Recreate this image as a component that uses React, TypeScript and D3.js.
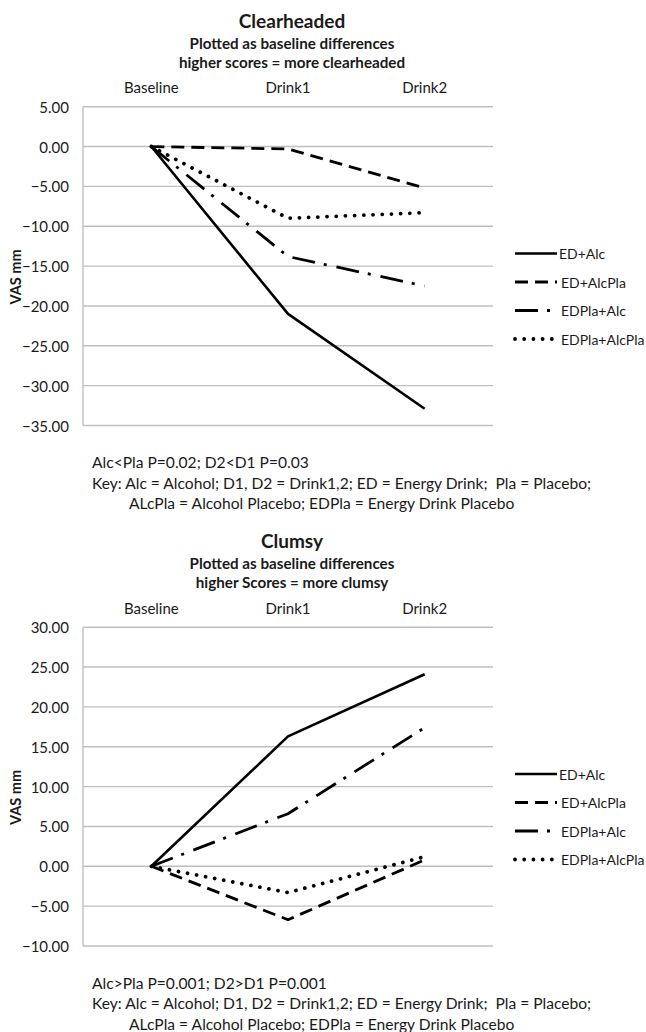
import React from "react";
import * as d3 from "d3";

const categories = ["Baseline", "Drink1", "Drink2"];
const seriesNames = ["ED+Alc", "ED+AlcPla", "EDPla+Alc", "EDPla+AlcPla"];

const clearEDAlc = [0, -21.0, -32.9];
const clearEDAlcPla = [0, -0.3, -5.2];
const clearEDPlaAlc = [0, -13.8, -17.5];
const clearEDPlaAlcPla = [0, -9.0, -8.3];

const clumsyEDAlc = [0, 16.3, 24.1];
const clumsyEDAlcPla = [0, -6.7, 0.8];
const clumsyEDPlaAlc = [0, 6.6, 17.4];
const clumsyEDPlaAlcPla = [0, -3.3, 1.2];

const clearTicks = [5, 0, -5, -10, -15, -20, -25, -30, -35];
const clumsyTicks = [30, 25, 20, 15, 10, 5, 0, -5, -10];

const clearTitle = "Clearheaded";
const clearSub = ["Plotted as baseline differences", "higher scores = more clearheaded"];
const clearNotes = [
  "Alc<Pla P=0.02; D2<D1 P=0.03",
  "Key: Alc = Alcohol; D1, D2 = Drink1,2; ED = Energy Drink;  Pla = Placebo;",
  "ALcPla = Alcohol Placebo; EDPla = Energy Drink Placebo",
];
const clumsyTitle = "Clumsy";
const clumsySub = ["Plotted as baseline differences", "higher Scores = more clumsy"];
const clumsyNotes = [
  "Alc>Pla P=0.001; D2>D1 P=0.001",
  "Key: Alc = Alcohol; D1, D2 = Drink1,2; ED = Energy Drink;  Pla = Placebo;",
  "ALcPla = Alcohol Placebo; EDPla = Energy Drink Placebo",
];

const styles = [
  { dash: "none", cap: "butt", width: 2.6 },
  { dash: "13,7", cap: "butt", width: 2.8 },
  { dash: "23,9,3,10", cap: "butt", width: 2.8 },
  { dash: "0.01,9.2", cap: "round", width: 3.8 },
];

const FONT = "Lato, 'Open Sans', sans-serif";
const TEXT = "#1a1a1a";
const GRID = "#bfbfbf";

type PanelProps = {
  top: number;
  title: string;
  sub: string[];
  notes: string[];
  ticks: number[];
  series: number[][];
};

function Panel({ top, title, sub, notes, ticks, series }: PanelProps) {
  const plotLeft = 83;
  const plotRight = 493;
  const plotTop = top + 106.7;
  const plotBottom = top + 425.5;
  const x = d3.scalePoint<string>().domain(categories).range([plotLeft, plotRight]).padding(0.5);
  const y = d3
    .scaleLinear()
    .domain([d3.min(ticks) as number, d3.max(ticks) as number])
    .range([plotBottom, plotTop]);
  const line = d3
    .line<number>()
    .x((_, i) => x(categories[i]) as number)
    .y((v) => y(v));
  const cx = 292;
  const legendY = [top + 253.5, top + 282, top + 310.5, top + 339];

  return (
    <g>
      <text x={cx} y={top + 20} textAnchor="middle" dominantBaseline="central" fontFamily={FONT} fontWeight="bold" fontSize={19} fill={TEXT}>
        {title}
      </text>
      {sub.map((s, i) => (
        <text key={s} x={cx} y={top + 42.7 + i * 19} textAnchor="middle" dominantBaseline="central" fontFamily={FONT} fontWeight="bold" fontSize={15.2} fill={TEXT}>
          {s}
        </text>
      ))}
      {categories.map((c) => (
        <text key={c} x={x(c)} y={top + 87} textAnchor="middle" dominantBaseline="central" fontFamily={FONT} fontSize={15} fill={TEXT}>
          {c}
        </text>
      ))}
      {ticks.map((t) => (
        <g key={t}>
          <line x1={plotLeft} x2={plotRight} y1={y(t)} y2={y(t)} stroke={GRID} strokeWidth={1.4} />
          <text x={69} y={y(t)} textAnchor="end" dominantBaseline="central" fontFamily={FONT} fontSize={15} fill={TEXT}>
            {d3.format(".2f")(t)}
          </text>
        </g>
      ))}
      <line x1={plotLeft} x2={plotLeft} y1={plotTop} y2={plotBottom} stroke={GRID} strokeWidth={1.4} />
      <text
        transform={`translate(15,${top + 277}) rotate(-90)`}
        textAnchor="middle"
        dominantBaseline="central"
        fontFamily={FONT}
        fontWeight="bold"
        fontSize={14.5}
        fill={TEXT}
      >
        VAS mm
      </text>
      {series.map((s, i) => (
        <path
          key={seriesNames[i]}
          d={line(s) as string}
          fill="none"
          stroke="#000"
          strokeWidth={styles[i].width}
          strokeDasharray={styles[i].dash}
          strokeLinecap={styles[i].cap as any}
          strokeLinejoin="round"
        />
      ))}
      {seriesNames.map((n, i) => (
        <g key={n}>
          <line
            x1={515}
            x2={557}
            y1={legendY[i]}
            y2={legendY[i]}
            stroke="#000"
            strokeWidth={styles[i].width}
            strokeDasharray={styles[i].dash}
            strokeLinecap={styles[i].cap as any}
          />
          <text x={i === 0 ? 559 : 561} y={legendY[i]} dominantBaseline="central" fontFamily={FONT} fontSize={14} fill={TEXT}>
            {n}
          </text>
        </g>
      ))}
      {notes.map((n, i) => (
        <text key={i} x={i === 2 ? 129 : 92} y={top + 462 + i * 20.5} dominantBaseline="central" fontFamily={FONT} fontSize={15.6} fill={TEXT} style={{ whiteSpace: "pre" }}>
          {n}
        </text>
      ))}
    </g>
  );
}

export default function App() {
  return (
    <svg width={646} height={1032} style={{ position: "absolute", left: 0, top: 0, background: "#fff" }}>
      <rect width={646} height={1032} fill="#fff" />
      <Panel top={0} title={clearTitle} sub={clearSub} notes={clearNotes} ticks={clearTicks} series={[clearEDAlc, clearEDAlcPla, clearEDPlaAlc, clearEDPlaAlcPla]} />
      <Panel top={520.5} title={clumsyTitle} sub={clumsySub} notes={clumsyNotes} ticks={clumsyTicks} series={[clumsyEDAlc, clumsyEDAlcPla, clumsyEDPlaAlc, clumsyEDPlaAlcPla]} />
    </svg>
  );
}
